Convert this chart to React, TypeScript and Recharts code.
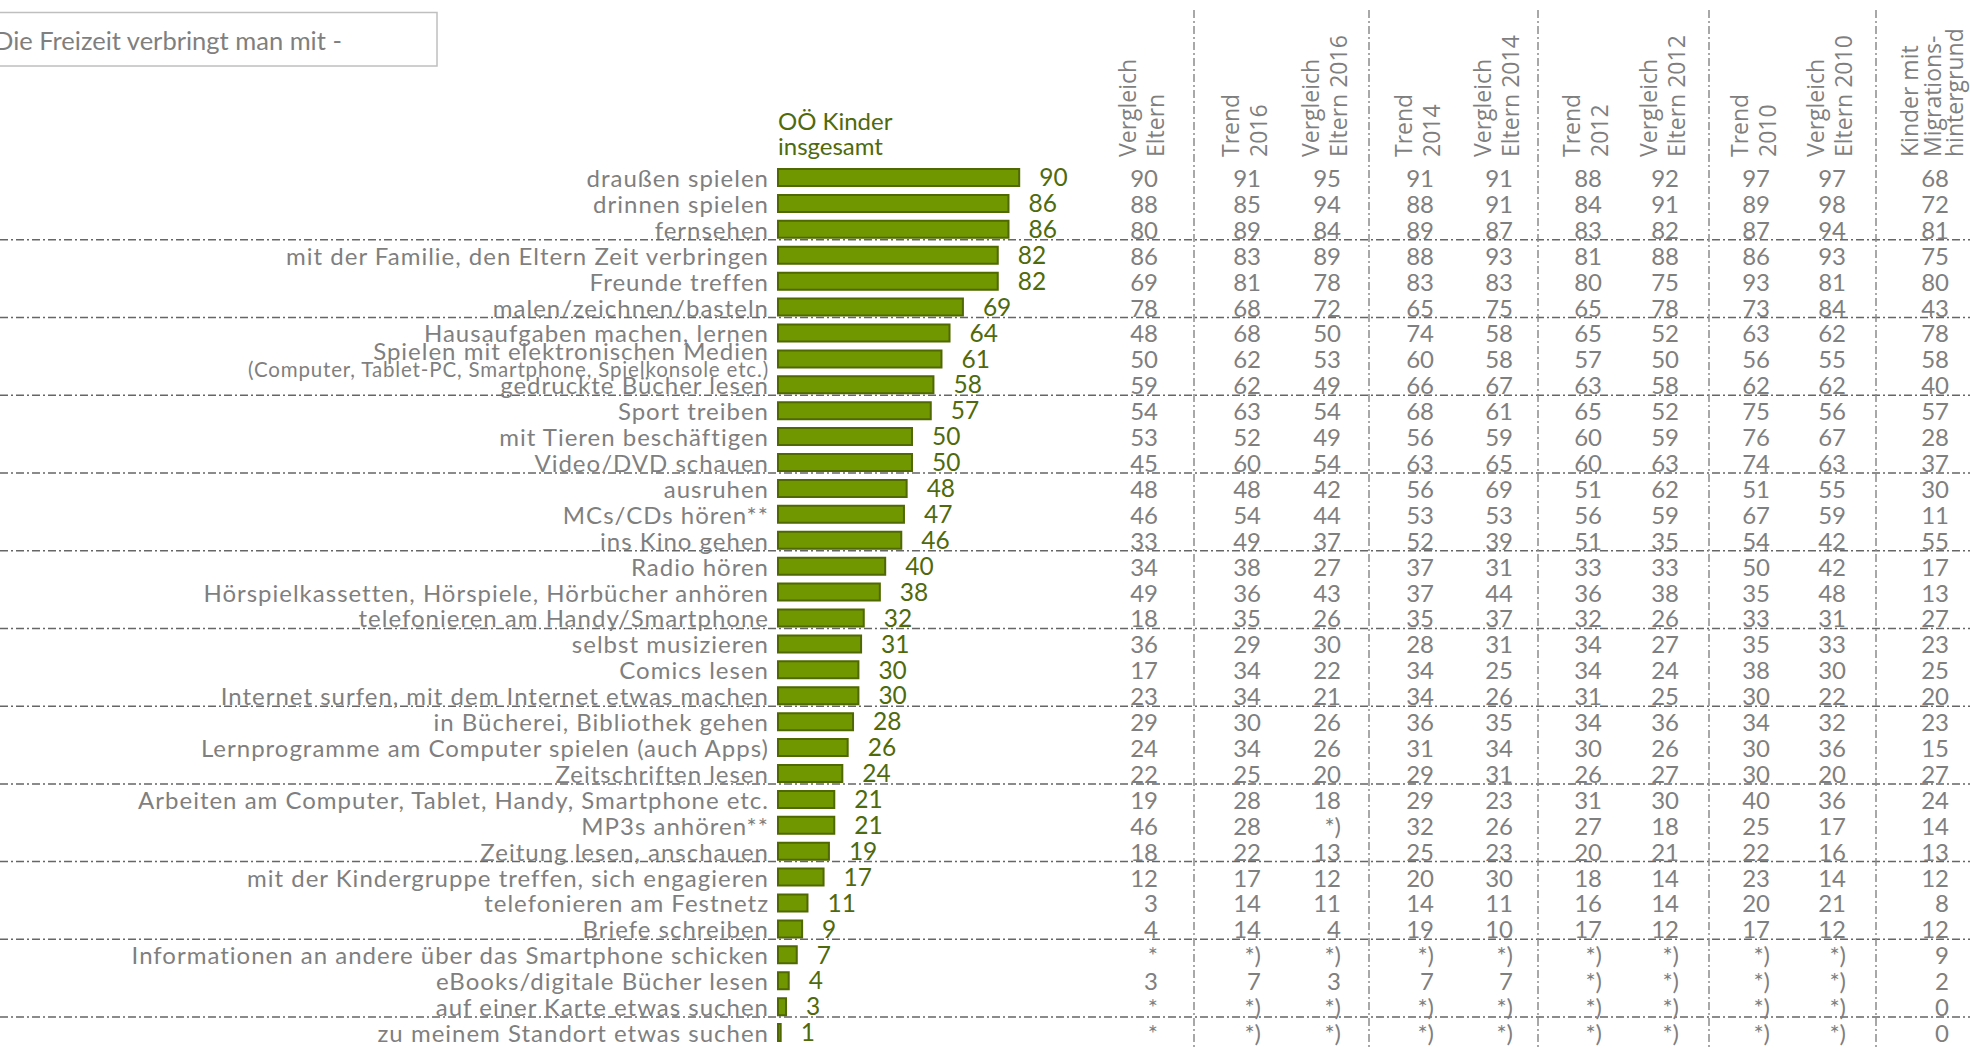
import React from 'react';
import { BarChart, Bar, XAxis, YAxis, LabelList, ReferenceLine } from 'recharts';

// Freizeitaktivitäten (Zeilen des Diagramms)
const categories = [
  'draußen spielen',
  'drinnen spielen',
  'fernsehen',
  'mit der Familie, den Eltern Zeit verbringen',
  'Freunde treffen',
  'malen/zeichnen/basteln',
  'Hausaufgaben machen, lernen',
  'Spielen mit elektronischen Medien\n(Computer, Tablet-PC, Smartphone, Spielkonsole etc.)',
  'gedruckte Bücher lesen',
  'Sport treiben',
  'mit Tieren beschäftigen',
  'Video/DVD schauen',
  'ausruhen',
  'MCs/CDs hören**',
  'ins Kino gehen',
  'Radio hören',
  'Hörspielkassetten, Hörspiele, Hörbücher anhören',
  'telefonieren am Handy/Smartphone',
  'selbst musizieren',
  'Comics lesen',
  'Internet surfen, mit dem Internet etwas machen',
  'in Bücherei, Bibliothek gehen',
  'Lernprogramme am Computer spielen (auch Apps)',
  'Zeitschriften lesen',
  'Arbeiten am Computer, Tablet, Handy, Smartphone etc.',
  'MP3s anhören**',
  'Zeitung lesen, anschauen',
  'mit der Kindergruppe treffen, sich engagieren',
  'telefonieren am Festnetz',
  'Briefe schreiben',
  'Informationen an andere über das Smartphone schicken',
  'eBooks/digitale Bücher lesen',
  'auf einer Karte etwas suchen',
  'zu meinem Standort etwas suchen',
];

// OÖ Kinder insgesamt (Balken)
const kinderGesamt = [90, 86, 86, 82, 82, 69, 64, 61, 58, 57, 50, 50, 48, 47, 46, 40, 38, 32, 31, 30, 30, 28, 26, 24, 21, 21, 19, 17, 11, 9, 7, 4, 3, 1];

// Vergleichsspalten (Tabelle rechts)
const vergleichEltern = ['90', '88', '80', '86', '69', '78', '48', '50', '59', '54', '53', '45', '48', '46', '33', '34', '49', '18', '36', '17', '23', '29', '24', '22', '19', '46', '18', '12', '3', '4', '*', '3', '*', '*'];
const trend2016 = ['91', '85', '89', '83', '81', '68', '68', '62', '62', '63', '52', '60', '48', '54', '49', '38', '36', '35', '29', '34', '34', '30', '34', '25', '28', '28', '22', '17', '14', '14', '*)', '7', '*)', '*)'];
const vergleichEltern2016 = ['95', '94', '84', '89', '78', '72', '50', '53', '49', '54', '49', '54', '42', '44', '37', '27', '43', '26', '30', '22', '21', '26', '26', '20', '18', '*)', '13', '12', '11', '4', '*)', '3', '*)', '*)'];
const trend2014 = ['91', '88', '89', '88', '83', '65', '74', '60', '66', '68', '56', '63', '56', '53', '52', '37', '37', '35', '28', '34', '34', '36', '31', '29', '29', '32', '25', '20', '14', '19', '*)', '7', '*)', '*)'];
const vergleichEltern2014 = ['91', '91', '87', '93', '83', '75', '58', '58', '67', '61', '59', '65', '69', '53', '39', '31', '44', '37', '31', '25', '26', '35', '34', '31', '23', '26', '23', '30', '11', '10', '*)', '7', '*)', '*)'];
const trend2012 = ['88', '84', '83', '81', '80', '65', '65', '57', '63', '65', '60', '60', '51', '56', '51', '33', '36', '32', '34', '34', '31', '34', '30', '26', '31', '27', '20', '18', '16', '17', '*)', '*)', '*)', '*)'];
const vergleichEltern2012 = ['92', '91', '82', '88', '75', '78', '52', '50', '58', '52', '59', '63', '62', '59', '35', '33', '38', '26', '27', '24', '25', '36', '26', '27', '30', '18', '21', '14', '14', '12', '*)', '*)', '*)', '*)'];
const trend2010 = ['97', '89', '87', '86', '93', '73', '63', '56', '62', '75', '76', '74', '51', '67', '54', '50', '35', '33', '35', '38', '30', '34', '30', '30', '40', '25', '22', '23', '20', '17', '*)', '*)', '*)', '*)'];
const vergleichEltern2010 = ['97', '98', '94', '93', '81', '84', '62', '55', '62', '56', '67', '63', '55', '59', '42', '42', '48', '31', '33', '30', '22', '32', '36', '20', '36', '17', '16', '14', '21', '12', '*)', '*)', '*)', '*)'];
const migrationshintergrund = ['68', '72', '81', '75', '80', '43', '78', '58', '40', '57', '28', '37', '30', '11', '55', '17', '13', '27', '23', '25', '20', '23', '15', '27', '24', '14', '13', '12', '8', '12', '9', '2', '0', '0'];

const columnHeaders = [
  ['Vergleich', 'Eltern'],
  ['Trend', '2016'],
  ['Vergleich', 'Eltern 2016'],
  ['Trend', '2014'],
  ['Vergleich', 'Eltern 2014'],
  ['Trend', '2012'],
  ['Vergleich', 'Eltern 2012'],
  ['Trend', '2010'],
  ['Vergleich', 'Eltern 2010'],
  ['Kinder mit', 'Migrations-', 'hintergrund'],
];
const columnValues = [
  vergleichEltern, trend2016, vergleichEltern2016, trend2014, vergleichEltern2014,
  trend2012, vergleichEltern2012, trend2010, vergleichEltern2010, migrationshintergrund,
];

// Layout der Tabelle (rechte Kante jeder Spalte, Trennlinien)
const colRight = [1158, 1261, 1341, 1434, 1513, 1602, 1679, 1770, 1846, 1949];
const colSeparators = [1194, 1369, 1538, 1709, 1876];
// Gruppen zu je 3 Zeilen, Linie nach diesen Zeilen
const groupEnds = [2, 5, 8, 11, 14, 17, 20, 23, 26, 29, 32];

const W = 1970;
const H = 1048;
const GRAY = '#7f7f7f';
const OLIVE = '#4f6a0c';
const FONT = 'Lato, "Noto Sans", sans-serif';
const HEAD_FONT = '"Open Sans", "DejaVu Sans", sans-serif';

const data = categories.map((label, i) => ({ label, value: kinderGesamt[i] }));

const LeftTick = (props: any) => {
  const { x, y, payload } = props;
  const lines = String(payload.value).split('\n');
  if (lines.length === 1) {
    return (
      <text x={x} y={y} dy={9} textAnchor="end" fill={GRAY} fontSize={24} letterSpacing={1} fontFamily={FONT}>
        {lines[0]}
      </text>
    );
  }
  return (
    <g>
      <text x={x} y={y} dy={1} textAnchor="end" fill={GRAY} fontSize={24} letterSpacing={1} fontFamily={FONT}>
        {lines[0]}
      </text>
      <text x={x} y={y} dy={18} textAnchor="end" fill={GRAY} fontSize={20.5} letterSpacing={0.85} fontFamily={FONT}>
        {lines[1]}
      </text>
    </g>
  );
};

const TableTick = (props: any) => {
  const { y, payload } = props;
  const idx = categories.indexOf(payload.value);
  return (
    <g>
      {columnValues.map((col, c) => (
        <text
          key={c}
          x={colRight[c]}
          y={y}
          dy={9}
          textAnchor="end"
          fill={GRAY}
          fontSize={24}
          fontFamily={FONT}
        >
          {col[idx]}
        </text>
      ))}
    </g>
  );
};

const separatorShape = (props: any) => (
  <line
    x1={0}
    x2={W}
    y1={props.y1 - 3}
    y2={props.y2 - 3}
    stroke="#666666"
    strokeWidth={1.5}
    strokeDasharray="8 3 2 3"
  />
);

export default function App() {
  return (
    <div style={{ position: 'absolute', left: 0, top: 0, width: W, height: H, background: '#fff', overflow: 'hidden' }}>
      <BarChart
        width={W}
        height={H}
        data={data}
        layout="vertical"
        margin={{ top: 165, right: 0, bottom: 2, left: 0 }}
      >
        <XAxis type="number" domain={[0, 100]} hide />
        <YAxis
          yAxisId="left"
          type="category"
          dataKey="label"
          width={778}
          axisLine={false}
          tickLine={false}
          tickSize={0}
          tickMargin={9}
          interval={0}
          tick={LeftTick}
        />
        <YAxis
          yAxisId="table"
          orientation="right"
          type="category"
          dataKey="label"
          width={924}
          axisLine={false}
          tickLine={false}
          tickSize={0}
          interval={0}
          tick={TableTick}
        />
        {groupEnds.map((i) => (
          <ReferenceLine
            key={i}
            yAxisId="left"
            y={categories[i]}
            position="end"
            ifOverflow="visible"
            shape={separatorShape}
          />
        ))}
        <Bar
          yAxisId="left"
          dataKey="value"
          fill="#709600"
          stroke="#4f6800"
          strokeWidth={2}
          barSize={17}
          isAnimationActive={false}
        >
          <LabelList dataKey="value" position="right" offset={20} fill={OLIVE} fontSize={24.5} fontFamily={FONT} />
        </Bar>
      </BarChart>
      <svg width={W} height={H} style={{ position: 'absolute', left: 0, top: 0, pointerEvents: 'none' }}>
        <rect x={-5} y={12.5} width={442} height={53.5} fill="none" stroke="#bfbfbf" strokeWidth={1.5} />
        <text x={-6} y={50} fill={GRAY} fontSize={25.5} fontFamily={FONT}>
          Die Freizeit verbringt man mit -
        </text>
        <text x={778} y={130} fill={OLIVE} fontSize={24} fontFamily={FONT}>OÖ Kinder</text>
        <text x={778} y={155} fill={OLIVE} fontSize={24} fontFamily={FONT}>insgesamt</text>
        {colSeparators.map((x) => (
          <line key={x} x1={x} x2={x} y1={10} y2={H} stroke="#8c8c8c" strokeWidth={1.5} strokeDasharray="8 3 2 3" />
        ))}
        {columnHeaders.map((lines, c) => {
          const three = lines.length === 3;
          const base = colRight[c] - (three ? 31 : 22);
          const step = three ? 22.5 : 27.5;
          return lines.map((ln, k) => {
            const x = base + k * step;
            return (
              <text
                key={`${c}-${k}`}
                x={x}
                y={157}
                transform={`rotate(-90 ${x} 157)`}
                fill={GRAY}
                fontSize={23}
                fontFamily={HEAD_FONT}
              >
                {ln}
              </text>
            );
          });
        })}
      </svg>
    </div>
  );
}
